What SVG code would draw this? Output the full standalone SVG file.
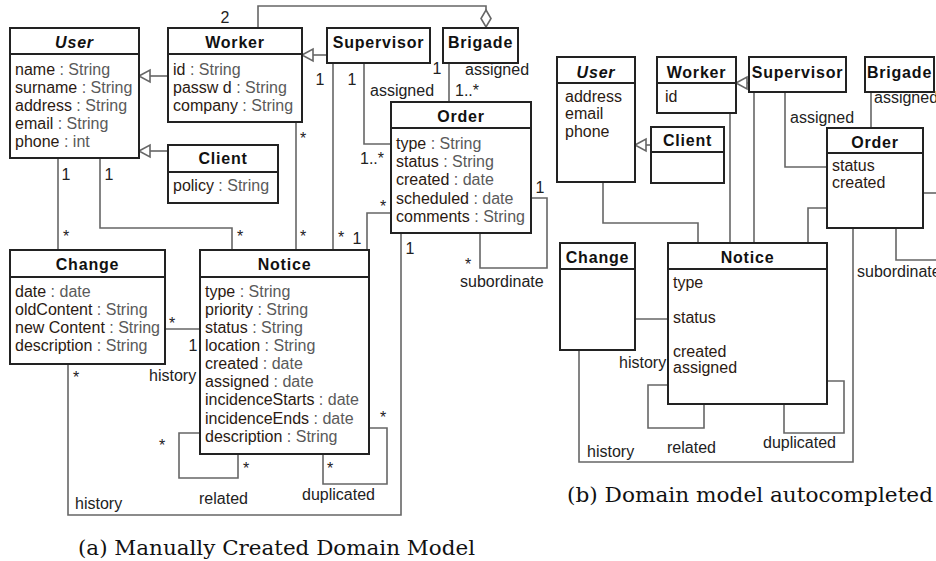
<svg xmlns="http://www.w3.org/2000/svg" width="936" height="561" viewBox="0 0 936 561">
<style>
.box{fill:#fff;stroke:#222;stroke-width:2}
.sep{stroke:#222;stroke-width:2}
.ln{fill:none;stroke:#666;stroke-width:1.6}
.tri{fill:#fff;stroke:#666;stroke-width:1.6}
text{font-family:"Liberation Sans",Arial,sans-serif;font-size:16px}
.hd{font-weight:bold;letter-spacing:0.8px;text-anchor:middle;fill:#111}
.it{font-style:italic}
.nm{fill:#2b1a12}
.ty{fill:#5a5a5a}
.lb{fill:#222}
.mid{text-anchor:middle}
.cap{font-family:"DejaVu Serif","Liberation Serif",serif;font-size:20px;fill:#111}
</style>
<g id="connectors">
<line class="ln" x1="168" y1="76" x2="150" y2="76"/>
<polygon class="tri" points="139,76 150,70 150,82"/>
<line class="ln" x1="168" y1="151" x2="150" y2="151"/>
<polygon class="tri" points="139,151 150,145 150,157"/>
<line class="ln" x1="327" y1="55" x2="313" y2="55"/>
<polygon class="tri" points="302,55 313,49 313,61"/>
<polyline class="ln" points="258,28 258,6 486,6 486,10"/>
<polygon class="tri" points="486,10 491,18.5 486,27 481,18.5"/>
<polyline class="ln" points="58,158 58,250"/>
<polyline class="ln" points="100,158 100,228 232,228 232,250"/>
<polyline class="ln" points="296,122 296,250"/>
<polyline class="ln" points="333,63 333,250"/>
<polyline class="ln" points="364,63 364,144 391,144"/>
<polyline class="ln" points="449,63 449,102"/>
<polyline class="ln" points="391,213 367,213 367,250"/>
<polyline class="ln" points="165,329 200,329"/>
<polyline class="ln" points="68,364 68,515 401,515 401,233"/>
<polyline class="ln" points="480,233 480,268 547,268 547,198 531,198"/>
<polyline class="ln" points="200,433 179,433 179,478 238,478 238,454"/>
<polyline class="ln" points="323,454 323,484 387,484 387,428 369,428"/>
<line class="ln" x1="651" y1="145" x2="646" y2="145"/>
<polygon class="tri" points="635,145 646,139 646,151"/>
<line class="ln" x1="749" y1="83" x2="747" y2="83"/>
<polygon class="tri" points="736,83 747,77 747,89"/>
<polyline class="ln" points="603,182 603,223 698,223 698,243"/>
<polyline class="ln" points="730,113 730,243"/>
<polyline class="ln" points="754,92 754,243"/>
<polyline class="ln" points="785,92 785,167 827,167"/>
<polyline class="ln" points="871,92 871,128"/>
<polyline class="ln" points="827,208 808,208 808,243"/>
<polyline class="ln" points="635,319 668,319"/>
<polyline class="ln" points="668,385 648,385 648,428 704,428 704,404"/>
<polyline class="ln" points="784,404 784,433 844,433 844,381 827,381"/>
<polyline class="ln" points="579,350 579,462 853,462 853,228"/>
<polyline class="ln" points="896,228 896,260 940,260"/>
<polyline class="ln" points="923,193 940,193"/>
</g>
<g id="labels">
<text class="lb mid" x="225" y="23">2</text>
<text class="lb mid" x="66" y="180">1</text>
<text class="lb mid" x="66" y="242">*</text>
<text class="lb mid" x="109" y="180">1</text>
<text class="lb mid" x="240" y="242">*</text>
<text class="lb mid" x="303" y="144">*</text>
<text class="lb mid" x="303" y="242">*</text>
<text class="lb mid" x="320" y="85">1</text>
<text class="lb mid" x="341" y="243">*</text>
<text class="lb mid" x="352" y="85">1</text>
<text class="lb" x="370" y="96">assigned</text>
<text class="lb" x="360" y="164">1..*</text>
<text class="lb mid" x="437" y="74">1</text>
<text class="lb" x="465" y="75">assigned</text>
<text class="lb" x="455" y="96">1..*</text>
<text class="lb mid" x="383" y="212">*</text>
<text class="lb mid" x="357" y="244">1</text>
<text class="lb mid" x="410" y="254">1</text>
<text class="lb mid" x="540" y="193">1</text>
<text class="lb mid" x="468" y="270">*</text>
<text class="lb" x="460" y="287">subordinate</text>
<text class="lb mid" x="172" y="329">*</text>
<text class="lb mid" x="193" y="351">1</text>
<text class="lb" x="149" y="381">history</text>
<text class="lb mid" x="76" y="383">*</text>
<text class="lb" x="75" y="509">history</text>
<text class="lb mid" x="162" y="451">*</text>
<text class="lb mid" x="246" y="474">*</text>
<text class="lb" x="199" y="504">related</text>
<text class="lb mid" x="383" y="423">*</text>
<text class="lb mid" x="330" y="474">*</text>
<text class="lb" x="302" y="500">duplicated</text>
<text class="lb" x="790" y="123">assigned</text>
<text class="lb" x="874" y="103">assigned</text>
<text class="lb" x="857" y="277">subordinate</text>
<text class="lb" x="619" y="368">history</text>
<text class="lb" x="667" y="453">related</text>
<text class="lb" x="763" y="448">duplicated</text>
<text class="lb" x="587" y="457">history</text>
</g>
<g id="a_user">
<rect class="box" x="10" y="28" width="129" height="130"/>
<line class="sep" x1="10" y1="54" x2="139" y2="54"/>
<text class="hd it" x="74.5" y="48">User</text>
<text x="15" y="75"><tspan class="nm">name</tspan><tspan class="ty"> : String</tspan></text>
<text x="15" y="93"><tspan class="nm">surname</tspan><tspan class="ty"> : String</tspan></text>
<text x="15" y="111"><tspan class="nm">address</tspan><tspan class="ty"> : String</tspan></text>
<text x="15" y="129"><tspan class="nm">email</tspan><tspan class="ty"> : String</tspan></text>
<text x="15" y="147"><tspan class="nm">phone</tspan><tspan class="ty"> : int</tspan></text>
</g>
<g id="a_worker">
<rect class="box" x="168" y="28" width="134" height="94"/>
<line class="sep" x1="168" y1="54" x2="302" y2="54"/>
<text class="hd" x="235" y="48">Worker</text>
<text x="173" y="75"><tspan class="nm">id</tspan><tspan class="ty"> : String</tspan></text>
<text x="173" y="93"><tspan class="nm">passw d</tspan><tspan class="ty"> : String</tspan></text>
<text x="173" y="111"><tspan class="nm">company</tspan><tspan class="ty"> : String</tspan></text>
</g>
<g id="a_client">
<rect class="box" x="168" y="145" width="110" height="58"/>
<line class="sep" x1="168" y1="172" x2="278" y2="172"/>
<text class="hd" x="223" y="164">Client</text>
<text x="173" y="191"><tspan class="nm">policy</tspan><tspan class="ty"> : String</tspan></text>
</g>
<g id="a_supervisor">
<rect class="box" x="327" y="28" width="103" height="35"/>
<text class="hd" x="378.5" y="48">Supervisor</text>
</g>
<g id="a_brigade">
<rect class="box" x="443" y="28" width="75" height="35"/>
<text class="hd" x="480.5" y="48">Brigade</text>
</g>
<g id="a_order">
<rect class="box" x="391" y="102" width="140" height="131"/>
<line class="sep" x1="391" y1="128" x2="531" y2="128"/>
<text class="hd" x="461" y="122">Order</text>
<text x="396" y="149"><tspan class="nm">type</tspan><tspan class="ty"> : String</tspan></text>
<text x="396" y="167"><tspan class="nm">status</tspan><tspan class="ty"> : String</tspan></text>
<text x="396" y="185"><tspan class="nm">created</tspan><tspan class="ty"> : date</tspan></text>
<text x="396" y="204"><tspan class="nm">scheduled</tspan><tspan class="ty"> : date</tspan></text>
<text x="396" y="222"><tspan class="nm">comments</tspan><tspan class="ty"> : String</tspan></text>
</g>
<g id="a_change">
<rect class="box" x="10" y="250" width="155" height="114"/>
<line class="sep" x1="10" y1="277" x2="165" y2="277"/>
<text class="hd" x="87.5" y="270">Change</text>
<text x="15" y="297"><tspan class="nm">date</tspan><tspan class="ty"> : date</tspan></text>
<text x="15" y="315"><tspan class="nm">oldContent</tspan><tspan class="ty"> : String</tspan></text>
<text x="15" y="333"><tspan class="nm">new Content</tspan><tspan class="ty"> : String</tspan></text>
<text x="15" y="351"><tspan class="nm">description</tspan><tspan class="ty"> : String</tspan></text>
</g>
<g id="a_notice">
<rect class="box" x="200" y="250" width="169" height="204"/>
<line class="sep" x1="200" y1="277" x2="369" y2="277"/>
<text class="hd" x="284.5" y="270">Notice</text>
<text x="205" y="297"><tspan class="nm">type</tspan><tspan class="ty"> : String</tspan></text>
<text x="205" y="315"><tspan class="nm">priority</tspan><tspan class="ty"> : String</tspan></text>
<text x="205" y="333"><tspan class="nm">status</tspan><tspan class="ty"> : String</tspan></text>
<text x="205" y="351"><tspan class="nm">location</tspan><tspan class="ty"> : String</tspan></text>
<text x="205" y="369"><tspan class="nm">created</tspan><tspan class="ty"> : date</tspan></text>
<text x="205" y="387"><tspan class="nm">assigned</tspan><tspan class="ty"> : date</tspan></text>
<text x="205" y="405"><tspan class="nm">incidenceStarts</tspan><tspan class="ty"> : date</tspan></text>
<text x="205" y="424"><tspan class="nm">incidenceEnds</tspan><tspan class="ty"> : date</tspan></text>
<text x="205" y="442"><tspan class="nm">description</tspan><tspan class="ty"> : String</tspan></text>
</g>
<g id="b_user">
<rect class="box" x="557" y="57" width="78" height="125"/>
<line class="sep" x1="557" y1="83" x2="635" y2="83"/>
<text class="hd it" x="596" y="78">User</text>
<text class="nm" x="565" y="102">address</text>
<text class="nm" x="565" y="119">email</text>
<text class="nm" x="565" y="137">phone</text>
</g>
<g id="b_worker">
<rect class="box" x="657" y="57" width="79" height="56"/>
<line class="sep" x1="657" y1="83" x2="736" y2="83"/>
<text class="hd" x="696.5" y="78">Worker</text>
<text class="nm" x="665" y="102">id</text>
</g>
<g id="b_client">
<rect class="box" x="651" y="127" width="73" height="56"/>
<line class="sep" x1="651" y1="152" x2="724" y2="152"/>
<text class="hd" x="687.5" y="146">Client</text>
</g>
<g id="b_supervisor">
<rect class="box" x="749" y="57" width="97" height="35"/>
<text class="hd" x="797.5" y="78">Supervisor</text>
</g>
<g id="b_brigade">
<rect class="box" x="865" y="57" width="69" height="35"/>
<text class="hd" x="899.5" y="78">Brigade</text>
</g>
<g id="b_order">
<rect class="box" x="827" y="128" width="96" height="100"/>
<line class="sep" x1="827" y1="153" x2="923" y2="153"/>
<text class="hd" x="875" y="148">Order</text>
<text class="nm" x="832" y="171">status</text>
<text class="nm" x="832" y="188">created</text>
</g>
<g id="b_notice">
<rect class="box" x="668" y="243" width="159" height="161"/>
<line class="sep" x1="668" y1="269" x2="827" y2="269"/>
<text class="hd" x="747.5" y="263">Notice</text>
<text class="nm" x="673" y="288">type</text>
<text class="nm" x="673" y="323">status</text>
<text class="nm" x="673" y="357">created</text>
<text class="nm" x="673" y="373">assigned</text>
</g>
<g id="b_change">
<rect class="box" x="560" y="243" width="75" height="107"/>
<line class="sep" x1="560" y1="269" x2="635" y2="269"/>
<text class="hd" x="597.5" y="263">Change</text>
</g>
<g id="captions">
<text class="cap" x="78" y="555" textLength="397" lengthAdjust="spacingAndGlyphs">(a) Manually Created Domain Model</text>
<text class="cap" x="567" y="502" textLength="366" lengthAdjust="spacingAndGlyphs">(b) Domain model autocompleted</text>
</g>
</svg>
